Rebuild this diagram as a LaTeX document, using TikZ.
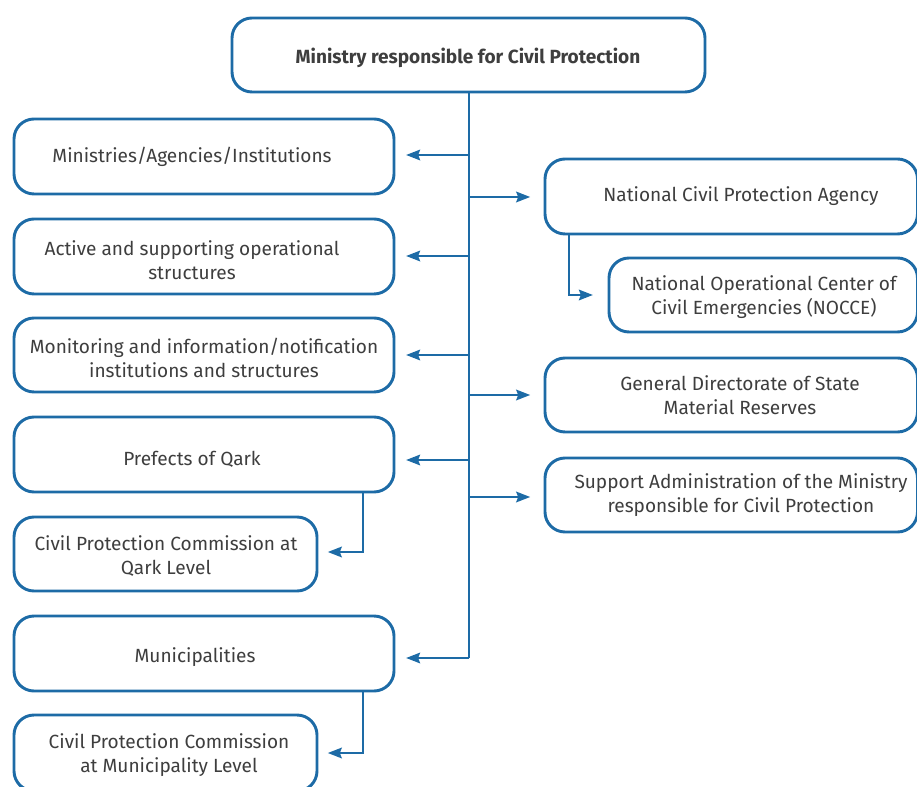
\documentclass[tikz,border=0pt]{standalone}
\usepackage{fontspec}
\setmainfont{Fira Sans}
\usetikzlibrary{calc,arrows.meta}
\definecolor{frameblue}{HTML}{1D6BA6}
\definecolor{inkgray}{HTML}{3E3E3E}
\begin{document}
\begin{tikzpicture}[x=0.75pt,y=-0.75pt,
  box/.style={draw=frameblue,line width=2.2pt,rounded corners=15pt,inner sep=0pt,fill=white},
  dims/.style 2 args={minimum width=#1*0.75pt,minimum height=#2*0.75pt},
  txt/.style={text=inkgray,align=center,inner sep=0pt,font=\fontsize{14.3}{18}\selectfont},
  link/.style={draw=frameblue,line width=1.5pt},
  arr/.style={link,-{Stealth[length=10.5pt,width=8pt,inset=1.5pt]}}]
\useasboundingbox (0,0) rectangle (917,787);
\clip (0,0) rectangle (917,787);

% top
\node[box,dims={473}{74}] (top) at (468.5,55) {};
\node[txt,font=\fontsize{14.3}{18}\selectfont\bfseries] (topT) at (468,58) {Ministry responsible for Civil Protection};

% left column
\node[box,dims={380}{75}] (mini) at (204,156.5) {};
\node[txt] (miniT) at (192,157) {Ministries/Agencies/Institutions};
\node[box,dims={380}{75}] (act) at (204,256.5) {};
\node[txt] (actT) at (192,260) {Active and supporting operational\\structures};
\node[box,dims={380}{74}] (mon) at (204,355) {};
\node[txt] (monT) at (204,358) {Monitoring and information/notification\\institutions and structures};
\node[box,dims={380}{75}] (pref) at (204,454.5) {};
\node[txt] (prefT) at (192,459) {Prefects of Qark};
\node[box,dims={303}{74}] (qk) at (165.5,554) {};
\node[txt] (qkT) at (166,556) {Civil Protection Commission at\\Qark Level};
\node[box,dims={380}{75}] (mun) at (204,653.5) {};
\node[txt] (munT) at (195,657) {Municipalities};
\node[box,dims={303}{76}] (cm) at (165.5,753) {};
\node[txt] (cmT) at (169,755) {Civil Protection Commission\\at Municipality Level};

% right column
\node[box,dims={372.5}{75}] (ncpa) at (731.25,196.5) {};
\node[txt] (ncpaT) at (741,196) {National Civil Protection Agency};
\node[box,dims={308.5}{74}] (nocce) at (763.25,295) {};
\node[txt] (nocceT) at (764,297) {National Operational Center of\\Civil Emergencies (NOCCE)};
\node[box,dims={372.5}{74}] (gd) at (731.25,395) {};
\node[txt] (gdT) at (740,395) {General Directorate of State\\Material Reserves};
\node[box,dims={372.5}{74}] (sa) at (731.25,495) {};
\node[txt] (saT) at (741,495) {Support Administration of the Ministry\\responsible for Civil Protection};

% trunk
\coordinate (trunkTop) at (469,92);
\coordinate (trunkEnd) at (469,658);
\draw[link] (top.south -| trunkTop) -- (trunkEnd);

% branches to the left
\foreach \n/\y in {mini/155,act/256,mon/355,pref/460} {
  \draw[arr,shorten >=8pt] (469,\y) -- (\n.east |- 0,\y);
}
\draw[arr,shorten >=8pt] (trunkEnd) -- (mun.east |- trunkEnd);

% branches to the right
\foreach \n/\y in {ncpa/197,gd/395,sa/497} {
  \draw[arr,shorten >=10pt] (469,\y) -- (\n.west |- 0,\y);
}

% sub-branches
\draw[arr,shorten >=11pt] ($(ncpa.south west)+(25,0)$) |- (nocce.west);
\draw[arr,shorten >=7pt] ($(pref.south east)+(-32,0)$) |- ($(qk.east)+(0,-2)$);
\draw[arr,shorten >=7pt] ($(mun.south east)+(-32,0)$) |- (cm.east);
\end{tikzpicture}
\end{document}
